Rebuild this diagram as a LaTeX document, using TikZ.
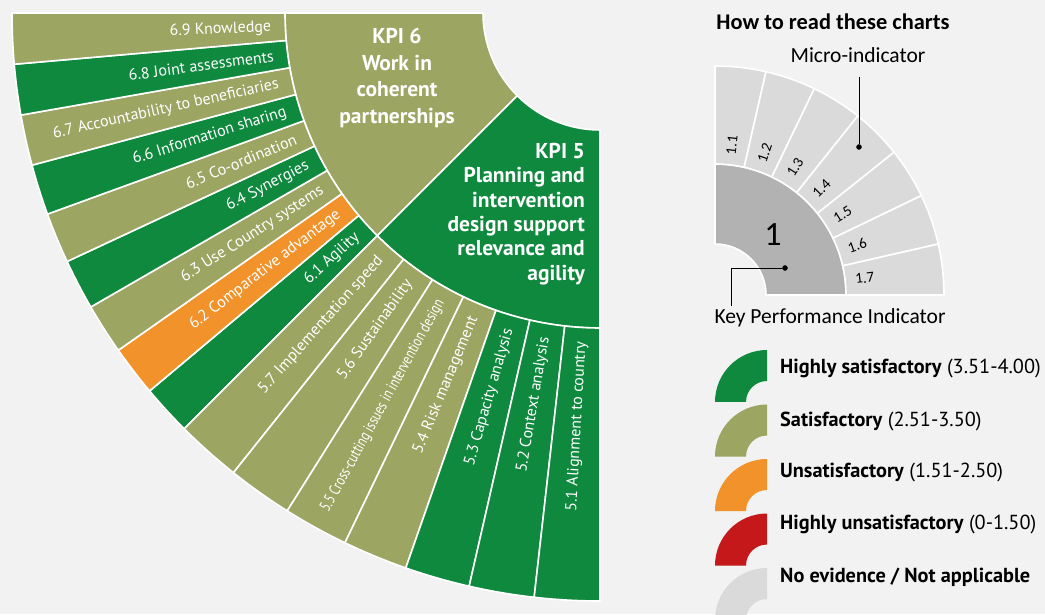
\documentclass[tikz,border=0pt]{standalone}
\usepackage{fontspec}
\setmainfont{PT Sans}
\newfontfamily\calfont{Carlito}
\usepackage{tikz}
\usetikzlibrary{shapes.geometric, arrows, calc}
\definecolor{hsgreen}{HTML}{0F893E}
\definecolor{sgreen}{HTML}{9CA562}
\definecolor{usorange}{HTML}{F2922A}
\definecolor{husred}{HTML}{C4181B}
\definecolor{nogray}{HTML}{DADADA}
\definecolor{kpigray}{HTML}{B2B2B2}
\definecolor{bgcol}{HTML}{F1F2F1}
\tikzstyle{band} = [draw=white, line width=1.6pt, line join=round]
\tikzstyle{plain} = [draw=none]
\tikzstyle{micro} = [text=white, font=\fontsize{16}{17}\selectfont, anchor=east, inner sep=0pt]
\tikzstyle{kpi} = [text=white, font=\fontsize{21.5}{26.5}\selectfont\bfseries, inner sep=0pt]
\tikzstyle{howto} = [font=\calfont\fontsize{21.5}{23}\selectfont, inner sep=0pt]
\tikzstyle{digit} = [font=\calfont\fontsize{15}{16}\selectfont, anchor=west, inner sep=0pt]
\tikzstyle{legtext} = [font=\fontsize{20.3}{22}\selectfont, anchor=west, inner sep=0pt]
\tikzstyle{dot} = [circle, draw, fill=black, minimum size=5pt, inner sep=0pt]
% ring sector: [style]{colour}{inner r}{outer r}{start}{end}
\newcommand{\ringpart}[6][band]{%
  \path[#1, fill=#2] (#5:#3) arc[start angle=#5, end angle=#6, radius=#3]
    -- (#6:#4) arc[start angle=#6, end angle=#5, radius=#4] -- cycle;}

\begin{document}
\begin{tikzpicture}[x=1pt, y=1pt]

      \fill[bgcol] (0,0) rectangle (1045,614);
      \useasboundingbox (0,0) rectangle (1045,614);

      % Main chart
      \begin{scope}[shift={(600,601)}]
      % KPI ring
      \ringpart{sgreen}{117}{315}{180}{225}
      \ringpart{hsgreen}{117}{315}{225}{270}
      % KPI 6 micro-indicators
      \ringpart{hsgreen}{315}{588}{220}{225}
      \ringpart{usorange}{315}{588}{215}{220}
      \ringpart{sgreen}{315}{588}{210}{215}
      \ringpart{hsgreen}{315}{588}{205}{210}
      \ringpart{sgreen}{315}{588}{200}{205}
      \ringpart{hsgreen}{315}{588}{195}{200}
      \ringpart{sgreen}{315}{588}{190}{195}
      \ringpart{hsgreen}{315}{588}{185}{190}
      \ringpart{sgreen}{315}{588}{180}{185}
      % KPI 5 micro-indicators
      \ringpart{sgreen}{315}{588}{225}{231.43}
      \ringpart{sgreen}{315}{588}{231.43}{237.86}
      \ringpart{sgreen}{315}{588}{237.86}{244.29}
      \ringpart{sgreen}{315}{588}{244.29}{250.71}
      \ringpart{hsgreen}{315}{588}{250.71}{257.14}
      \ringpart{hsgreen}{315}{588}{257.14}{263.57}
      \ringpart{hsgreen}{315}{588}{263.57}{270}

      % Labels
      \node[micro, rotate=42.5] (m61) at (222.5:329) {6.1 Agility};
      \node[micro, rotate=37.5] (m62) at (217.5:329) {6.2 Comparative advantage};
      \node[micro, rotate=32.5] (m63) at (212.5:329) {6.3 Use Country systems};
      \node[micro, rotate=27.5] (m64) at (207.5:329) {6.4 Synergies};
      \node[micro, rotate=22.5] (m65) at (202.5:329) {6.5 Co-ordination};
      \node[micro, rotate=17.5] (m66) at (197.5:329) {6.6 Information sharing};
      \node[micro, rotate=12.5] (m67) at (192.5:329) {6.7 Accountability to beneficiaries};
      \node[micro, rotate=7.5] (m68) at (187.5:329) {6.8 Joint assessments};
      \node[micro, rotate=2.5] (m69) at (182.5:329) {6.9 Knowledge};
      \node[micro, rotate=48.21] (m57) at (228.21:329) {5.7 Implementation speed};
      \node[micro, rotate=54.64] (m56) at (234.64:329) {5.6 Sustainability};
      \node[micro, rotate=61.07] (m55) at (241.07:329) {\scalebox{0.76}[1]{5.5 Cross-cutting issues in intervention design}};
      \node[micro, rotate=67.5] (m54) at (247.5:329) {5.4 Risk management};
      \node[micro, rotate=73.93] (m53) at (253.93:329) {5.3 Capacity analysis};
      \node[micro, rotate=80.36] (m52) at (260.36:329) {5.2 Context analysis};
      \node[micro, rotate=86.79] (m51) at (266.79:329) {5.1 Alignment to country};
      \end{scope}

      \node[kpi, align=center] (kpi6) at (397,536) {KPI 6\\Work in\\coherent\\partnerships};
      \node[kpi, align=right, anchor=east, font=\fontsize{21.5}{24.4}\selectfont\bfseries] (kpi5) at (585,400)
        {KPI 5\\Planning and\\intervention\\design support\\relevance and\\agility};

      % How to read
      \node[howto, font=\calfont\bfseries\fontsize{22.4}{24}\selectfont] (title) at (833,592) {How to read these charts};
      \begin{scope}[shift={(715,319)}]
      \ringpart{kpigray}{51}{131}{0}{90}
      \ringpart{nogray}{131}{229}{77.14}{90}
      \ringpart{nogray}{131}{229}{64.29}{77.14}
      \ringpart{nogray}{131}{229}{51.43}{64.29}
      \ringpart{nogray}{131}{229}{38.57}{51.43}
      \ringpart{nogray}{131}{229}{25.71}{38.57}
      \ringpart{nogray}{131}{229}{12.86}{25.71}
      \ringpart{nogray}{131}{229}{0}{12.86}
      \node[digit, rotate=83.57] (d1) at (83.57:141) {1.1};
      \node[digit, rotate=70.71] (d2) at (70.71:141) {1.2};
      \node[digit, rotate=57.86] (d3) at (57.86:141) {1.3};
      \node[digit, rotate=45] (d4) at (45:141) {1.4};
      \node[digit, rotate=32.14] (d5) at (32.14:141) {1.5};
      \node[digit, rotate=19.29] (d6) at (19.29:141) {1.6};
      \node[digit, rotate=6.43] (d7) at (6.43:141) {1.7};
      \end{scope}
      \node[howto, font=\calfont\fontsize{34}{36}\selectfont] (one) at (773,379) {1};

      % Nodes
      \node[howto] (microtext) at (858,559) {Micro-indicator};
      \coordinate (microtop) at (859,537);
      \node[dot] (microdot) at (859,467) {};
      \node[howto] (kpitext) at (830,296) {Key Performance Indicator};
      \node[dot] (kpidot) at (785,346) {};
      \coordinate (kpibottom) at (731,308);

      %Edges
      \draw[line width=0.8pt] (microtop) -- (microdot);
      \draw[line width=0.8pt] (kpidot) -| (kpibottom);

      % Legend
      \begin{scope}[shift={(767,212)}]
      \ringpart[plain]{hsgreen}{21}{52}{90}{180}
      \end{scope}
      \begin{scope}[shift={(767,157.5)}]
      \ringpart[plain]{sgreen}{21}{52}{90}{180}
      \end{scope}
      \begin{scope}[shift={(767,103)}]
      \ringpart[plain]{usorange}{21}{52}{90}{180}
      \end{scope}
      \begin{scope}[shift={(767,48.5)}]
      \ringpart[plain]{husred}{21}{52}{90}{180}
      \end{scope}
      \begin{scope}[shift={(767,-6)}]
      \ringpart[plain]{nogray}{21}{52}{90}{180}
      \end{scope}
      \node[legtext] (leg1) at (780,245) {\textbf{Highly satisfactory} (3.51-4.00)};
      \node[legtext] (leg2) at (780,193) {\textbf{Satisfactory} (2.51-3.50)};
      \node[legtext] (leg3) at (780,141) {\textbf{Unsatisfactory} (1.51-2.50)};
      \node[legtext] (leg4) at (780,89) {\textbf{Highly unsatisfactory} (0-1.50)};
      \node[legtext] (leg5) at (780,37) {\textbf{No evidence / Not applicable}};

\end{tikzpicture}
\end{document}
